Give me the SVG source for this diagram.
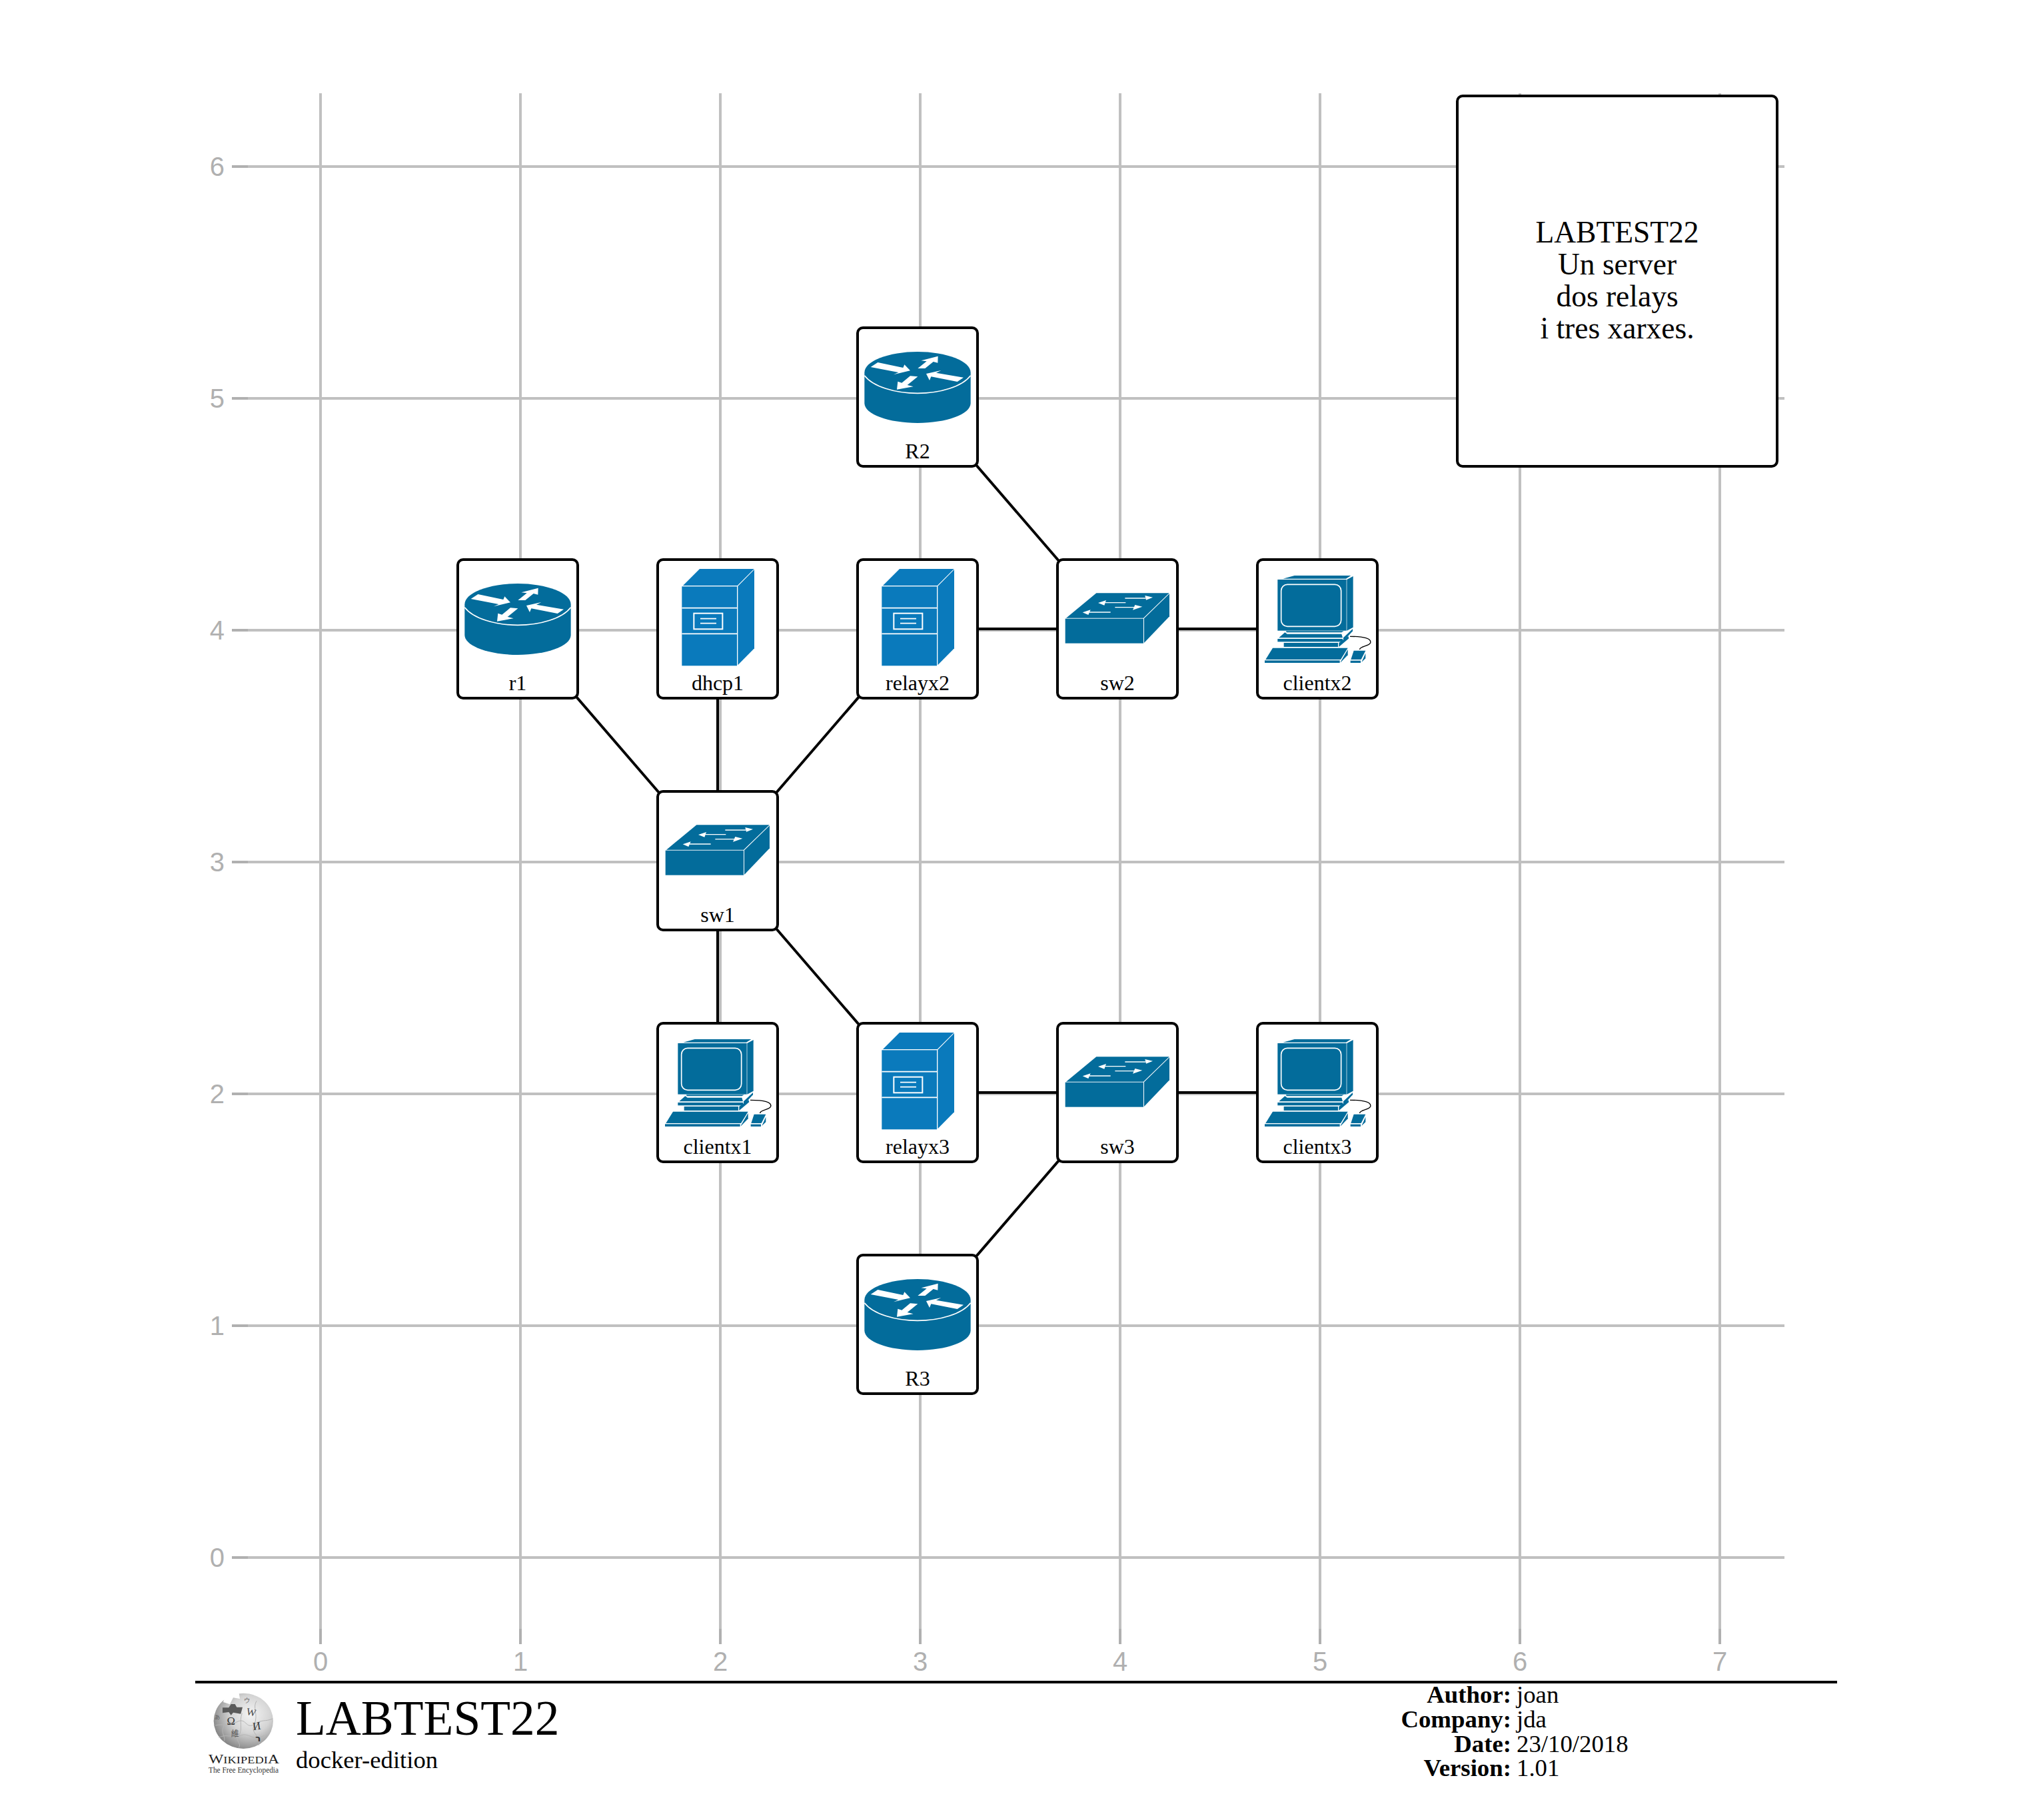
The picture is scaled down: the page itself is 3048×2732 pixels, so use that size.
<svg xmlns="http://www.w3.org/2000/svg" xmlns:xlink="http://www.w3.org/1999/xlink" width="3048" height="2732" viewBox="0 0 3048 2732">
<style>
text{font-family:"Liberation Serif","Times New Roman",serif;fill:#000}
.grid line{stroke:#c0c0c0;stroke-width:4}
.tick line{stroke:#b0b0b0;stroke-width:4}
.ax{font-family:"Liberation Sans",Arial,sans-serif;font-size:40px;fill:#b0b0b0}
.conn line{stroke:#000;stroke-width:4;fill:none}
.box{fill:#fff;stroke:#000;stroke-width:4}
.lbl{font-size:32px;text-anchor:middle}
.note{font-size:45.5px;text-anchor:middle}
.k{font-size:36.8px;font-weight:bold;text-anchor:end}
.v{font-size:36.8px}
.r{fill:#036c9b}
.s{fill:#0a7abc}
.w{fill:#fff}
.wl{stroke:#fff;fill:none}
</style>
<defs>
<radialGradient id="globe" cx="62%" cy="38%" r="68%">
<stop offset="0" stop-color="#f4f4f4"/><stop offset=".5" stop-color="#d4d4d4"/><stop offset=".82" stop-color="#a0a0a0"/><stop offset="1" stop-color="#808080"/>
</radialGradient>
<g id="ic-router" transform="translate(-7,-10) scale(.33333)">
<path class="r" d="M52 232A239 94 0 0 1 530 232V370C530 420 420 459 291 459S52 420 52 370Z"/>
<path class="wl" stroke-width="5" d="M52 245C90 295 190 325 291 325S492 295 530 245"/>
<polygon class="w" points="112,186 226,210 232,196 258,223 183,241 205,231 80,207"/>
<polygon class="w" points="292,213 332,181 307,178 383,158 382,188 362,183 325,213"/>
<polygon class="w" points="330,237 397,222 375,233 498,254 470,273 352,250 345,267"/>
<polygon class="w" points="198,308 202,272 220,278 258,247 292,250 245,288 272,295"/>
</g>
<g id="ic-server" transform="translate(-7,-10) scale(.33333)">
<polygon class="s" points="135,147 210,72 455,72 380,147"/>
<polygon class="s" points="382,150 456,75 456,430 382,505"/>
<rect class="s" x="130" y="151" width="248" height="357"/>
<path class="wl" stroke-width="5" d="M130 248H378M130 364H378"/>
<rect x="184" y="272" width="129" height="71" fill="none" stroke="#fff" stroke-width="6"/>
<path class="wl" stroke-width="5" d="M213 296H285M213 317H285"/>
</g>
<g id="ic-switch" transform="translate(-7,-10) scale(.33333)">
<polygon class="r" points="60,293 196,181 524,181 408,293"/>
<polygon class="r" points="411,295 525,184 525,286 411,405"/>
<rect class="r" x="56" y="296" width="352" height="111"/>
<path class="wl" stroke-width="4" d="M325 204H418M328 224H235M280 245H372M260 267H165"/>
<polygon class="w" points="450,200 415,192 420,212"/>
<polygon class="w" points="204,225 240,213 232,236"/>
<polygon class="w" points="403,242 370,234 360,257"/>
<polygon class="w" points="134,268 170,256 160,279"/>
</g>
<g id="ic-client" transform="translate(-7,-10) scale(.33333)">
<polygon class="r" points="136,116 188,102 442,102 420,116"/>
<polygon class="r" points="424,120 452,105 452,335 424,350"/>
<rect class="r" x="112" y="120" width="310" height="230"/>
<rect x="128" y="142" width="270" height="189" rx="28" fill="none" stroke="#fff" stroke-width="5"/>
<polygon class="r" points="150,352 410,352 400,358 152,358"/>
<polygon class="r" points="118,382 145,358 155,365 400,365 405,382"/>
<rect class="r" x="112" y="387" width="293" height="13"/>
<polygon class="r" points="408,382 450,342 450,352 408,398"/>
<rect class="r" x="140" y="405" width="244" height="18"/>
<polygon class="r" points="388,405 430,375 433,385 388,423"/>
<polygon class="r" points="90,428 428,428 396,480 58,480"/>
<rect class="r" x="54" y="484" width="338" height="11"/>
<polygon class="r" points="396,490 428,435 428,460 396,493"/>
<polygon class="r" points="455,440 508,440 488,480 442,480"/>
<rect class="r" x="440" y="485" width="46" height="10"/>
<polygon class="r" points="490,492 508,452 508,475"/>
<path d="M438 376C500 376 535 385 530 405C525 420 480 420 482 435" fill="none" stroke="#000" stroke-width="4"/>
</g>
</defs>
<rect width="3048" height="2732" fill="#fff"/>
<g id="axes">
<g class="grid">
<line x1="481" y1="140" x2="481" y2="2445"/><line x1="781" y1="140" x2="781" y2="2445"/><line x1="1081" y1="140" x2="1081" y2="2445"/><line x1="1381" y1="140" x2="1381" y2="2445"/><line x1="1681" y1="140" x2="1681" y2="2445"/><line x1="1981" y1="140" x2="1981" y2="2445"/><line x1="2281" y1="140" x2="2281" y2="2445"/><line x1="2581" y1="140" x2="2581" y2="2445"/>
<line x1="372" y1="250" x2="2678" y2="250"/><line x1="372" y1="598" x2="2678" y2="598"/><line x1="372" y1="946" x2="2678" y2="946"/><line x1="372" y1="1294" x2="2678" y2="1294"/><line x1="372" y1="1642" x2="2678" y2="1642"/><line x1="372" y1="1990" x2="2678" y2="1990"/><line x1="372" y1="2338" x2="2678" y2="2338"/>
</g>
<g class="tick">
<line x1="481" y1="2445" x2="481" y2="2468"/><line x1="781" y1="2445" x2="781" y2="2468"/><line x1="1081" y1="2445" x2="1081" y2="2468"/><line x1="1381" y1="2445" x2="1381" y2="2468"/><line x1="1681" y1="2445" x2="1681" y2="2468"/><line x1="1981" y1="2445" x2="1981" y2="2468"/><line x1="2281" y1="2445" x2="2281" y2="2468"/><line x1="2581" y1="2445" x2="2581" y2="2468"/>
<line x1="348" y1="250" x2="372" y2="250"/><line x1="348" y1="598" x2="372" y2="598"/><line x1="348" y1="946" x2="372" y2="946"/><line x1="348" y1="1294" x2="372" y2="1294"/><line x1="348" y1="1642" x2="372" y2="1642"/><line x1="348" y1="1990" x2="372" y2="1990"/><line x1="348" y1="2338" x2="372" y2="2338"/>
</g>
<g text-anchor="middle">
<text class="ax" x="481" y="2508">0</text><text class="ax" x="781" y="2508">1</text><text class="ax" x="1081" y="2508">2</text><text class="ax" x="1381" y="2508">3</text><text class="ax" x="1681" y="2508">4</text><text class="ax" x="1981" y="2508">5</text><text class="ax" x="2281" y="2508">6</text><text class="ax" x="2581" y="2508">7</text>
</g>
<g text-anchor="end">
<text class="ax" x="337" y="264">6</text><text class="ax" x="337" y="612">5</text><text class="ax" x="337" y="960">4</text><text class="ax" x="337" y="1308">3</text><text class="ax" x="337" y="1656">2</text><text class="ax" x="337" y="2004">1</text><text class="ax" x="337" y="2352">0</text>
</g>
</g>
<g id="connectors" class="conn">
<line x1="777" y1="944" x2="1077" y2="1292"/>
<line x1="1077" y1="944" x2="1077" y2="1292"/>
<line x1="1377" y1="944" x2="1077" y2="1292"/>
<line x1="1077" y1="1292" x2="1077" y2="1640"/>
<line x1="1077" y1="1292" x2="1377" y2="1640"/>
<line x1="1377" y1="596" x2="1677" y2="944"/>
<line x1="1377" y1="944" x2="1977" y2="944"/>
<line x1="1377" y1="1640" x2="1977" y2="1640"/>
<line x1="1677" y1="1640" x2="1377" y2="1988"/>
</g>
<g id="R2" transform="translate(1287,492)"><rect class="box" width="180" height="208" rx="8"/><use href="#ic-router"/><text class="lbl" x="90" y="196">R2</text></g>
<g id="r1" transform="translate(687,840)"><rect class="box" width="180" height="208" rx="8"/><use href="#ic-router"/><text class="lbl" x="90" y="196">r1</text></g>
<g id="dhcp1" transform="translate(987,840)"><rect class="box" width="180" height="208" rx="8"/><use href="#ic-server"/><text class="lbl" x="90" y="196">dhcp1</text></g>
<g id="relayx2" transform="translate(1287,840)"><rect class="box" width="180" height="208" rx="8"/><use href="#ic-server"/><text class="lbl" x="90" y="196">relayx2</text></g>
<g id="sw2" transform="translate(1587,840)"><rect class="box" width="180" height="208" rx="8"/><use href="#ic-switch"/><text class="lbl" x="90" y="196">sw2</text></g>
<g id="clientx2" transform="translate(1887,840)"><rect class="box" width="180" height="208" rx="8"/><use href="#ic-client"/><text class="lbl" x="90" y="196">clientx2</text></g>
<g id="sw1" transform="translate(987,1188)"><rect class="box" width="180" height="208" rx="8"/><use href="#ic-switch"/><text class="lbl" x="90" y="196">sw1</text></g>
<g id="clientx1" transform="translate(987,1536)"><rect class="box" width="180" height="208" rx="8"/><use href="#ic-client"/><text class="lbl" x="90" y="196">clientx1</text></g>
<g id="relayx3" transform="translate(1287,1536)"><rect class="box" width="180" height="208" rx="8"/><use href="#ic-server"/><text class="lbl" x="90" y="196">relayx3</text></g>
<g id="sw3" transform="translate(1587,1536)"><rect class="box" width="180" height="208" rx="8"/><use href="#ic-switch"/><text class="lbl" x="90" y="196">sw3</text></g>
<g id="clientx3" transform="translate(1887,1536)"><rect class="box" width="180" height="208" rx="8"/><use href="#ic-client"/><text class="lbl" x="90" y="196">clientx3</text></g>
<g id="R3" transform="translate(1287,1884)"><rect class="box" width="180" height="208" rx="8"/><use href="#ic-router"/><text class="lbl" x="90" y="196">R3</text></g>
<g id="note"><rect class="box" x="2187" y="144" width="480" height="556" rx="8"/>
<text class="note" x="2427" y="364">LABTEST22</text><text class="note" x="2427" y="412">Un server</text><text class="note" x="2427" y="460">dos relays</text><text class="note" x="2427" y="508">i tres xarxes.</text></g>
<g id="footer">
<line x1="293" y1="2525" x2="2757" y2="2525" stroke="#000" stroke-width="4"/>
<g id="logo" transform="translate(300,2530) scale(.33333)">
<ellipse cx="196" cy="160" rx="134" ry="125" fill="url(#globe)"/>
<polygon fill="#fff" points="120,30 175,30 180,60 150,55 135,85 105,75"/>
<polygon fill="#fff" points="240,28 275,28 262,48 245,45"/>
<polygon fill="#5a5a5a" points="102,100 130,100 140,84 158,84 166,98 192,98 184,128 150,122 140,134 130,120 102,124"/>
<g fill="none" stroke="#b4b4b4" stroke-width="3">
<path d="M70 180C110 170 120 190 165 165S205 200 245 175S290 165 328 150"/>
<path d="M85 235C120 215 150 240 185 225S240 255 290 225"/>
<path d="M190 125C175 160 195 200 175 225S190 260 175 280"/>
<path d="M255 70C235 100 265 130 245 175S275 220 265 270"/>
<path d="M100 125C95 150 115 165 105 190S115 230 110 250"/>
</g>
<text x="140" y="176" font-size="50" text-anchor="middle" style="fill:#333">Ω</text>
<text x="228" y="136" font-size="46" text-anchor="middle" transform="rotate(12 228 136)" style="fill:#444">W</text>
<text x="258" y="199" font-size="50" text-anchor="middle" transform="rotate(-8 258 199)" style="fill:#333">И</text>
<text x="158" y="230" font-size="36" text-anchor="middle" style="font-family:'Noto Sans CJK TC',sans-serif;fill:#555">維</text>
<text x="262" y="252" font-size="40" text-anchor="middle" style="font-family:'DejaVu Sans',sans-serif;font-weight:bold;fill:#333">ר</text>
<text x="212" y="78" font-size="28" text-anchor="middle" style="font-family:'Noto Sans CJK JP',sans-serif;fill:#666">ウ</text>
<text x="78" y="152" font-size="30" text-anchor="middle" style="font-family:'Noto Sans CJK JP',sans-serif;fill:#666">ぁ</text>
</g>
<text x="313" y="2647" textLength="106" lengthAdjust="spacingAndGlyphs" style="font-size:14px;fill:#222"><tspan style="font-size:18px">W</tspan>IKIPEDI<tspan style="font-size:18px">A</tspan></text>
<text x="313" y="2661" textLength="105" lengthAdjust="spacingAndGlyphs" style="font-size:12px;fill:#333">The Free Encyclopedia</text>
<text x="444" y="2604" style="font-size:73.4px">LABTEST22</text>
<text x="444" y="2654" style="font-size:36.7px">docker-edition</text>
<text class="k" x="2268" y="2556">Author:</text><text class="v" x="2276" y="2556">joan</text>
<text class="k" x="2268" y="2593">Company:</text><text class="v" x="2276" y="2593">jda</text>
<text class="k" x="2268" y="2630">Date:</text><text class="v" x="2276" y="2630">23/10/2018</text>
<text class="k" x="2268" y="2666">Version:</text><text class="v" x="2276" y="2666">1.01</text>
</g>
</svg>
